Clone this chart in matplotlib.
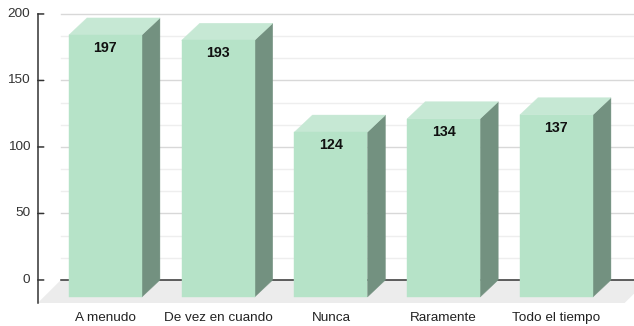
import matplotlib
matplotlib.use("Agg")
import matplotlib.pyplot as plt
from matplotlib.patches import Polygon
import numpy as np

categories = ['A menudo', 'De vez en cuando', 'Nunca', 'Raramente', 'Todo el tiempo']
values = [197, 193, 124, 134, 137]
y_major = [0, 50, 100, 150, 200]

plt.rcParams['font.family'] = ['Liberation Sans', 'DejaVu Sans']

# colours
front_c = '#b6e3c8'
top_c = '#c6e8d4'
side_c = '#739180'
floor_c = '#ececec'

# 3d look (data units: categories on x, values on y)
bar_w = 0.647
dx_bar, dy_bar = 0.16, 12.8      # front face is shifted left/down by this
dx_floor, dy_floor = 0.205, 17.3
x_left, x_right = -0.555, 4.65

fig = plt.figure(figsize=(6.34, 3.26), dpi=100)
ax = fig.add_axes([0, 0, 1, 1])
ax.set_xlim(-1.095, 4.528)
ax.set_ylim(-34.6, 210.5)
ax.axis('off')

# floor
ax.add_patch(Polygon([(x_left, 0), (x_right, 0),
                      (x_right - dx_floor, -dy_floor), (x_left - dx_floor, -dy_floor)],
                     closed=True, facecolor=floor_c, edgecolor='none', zorder=1))

# grid lines on back wall
minor = [v for v in np.arange(0, 201, 50 / 3) if round(v) % 50 != 0]
for v in minor:
    ax.plot([x_left, x_right], [v, v], color='#eeeeee', lw=1, zorder=2)
for v in y_major[1:]:
    ax.plot([x_left, x_right], [v, v], color='#d8d8d8', lw=1, zorder=2)
ax.plot([x_left, x_right], [0, 0], color='#333333', lw=1.1, zorder=2)

# bars
for i, v in enumerate(values):
    fx0 = i - dx_bar - bar_w / 2
    fx1 = i - dx_bar + bar_w / 2
    fy0 = -dy_bar
    fy1 = v - dy_bar
    side = [(fx1, fy0), (fx1 + dx_bar, 0), (fx1 + dx_bar, v), (fx1, fy1)]
    top = [(fx0, fy1), (fx0 + dx_bar, v), (fx1 + dx_bar, v), (fx1, fy1)]
    ax.add_patch(Polygon(side, closed=True, facecolor=side_c, edgecolor=side_c, lw=0.3, zorder=3))
    ax.add_patch(Polygon(top, closed=True, facecolor=top_c, edgecolor=top_c, lw=0.3, zorder=3))
    ax.add_patch(plt.Rectangle((fx0, fy0), bar_w, v, facecolor=front_c, edgecolor=front_c,
                               lw=0.3, zorder=4))
    ax.annotate(str(v), (i - dx_bar, fy1), xytext=(0, -9.4), textcoords='offset points',
                ha='center', va='center', fontsize=10.3, fontweight='bold', color='#111111', zorder=5)
    ax.annotate(categories[i], (i - dx_bar, -dy_floor), xytext=(0, -10.6), textcoords='offset points',
                ha='center', va='center', fontsize=9.7, color='#222222', zorder=5)

# y axis on the front
ax_x = x_left - dx_floor
ax.plot([ax_x, ax_x], [-dy_floor, 200], color='#333333', lw=1.1, zorder=5)
for v in y_major:
    ax.annotate('', (ax_x, v), xytext=(4.3, 0), textcoords='offset points',
                arrowprops=dict(arrowstyle='-', color='#333333', lw=1.1, shrinkA=0, shrinkB=0))
    ax.annotate(str(v), (ax_x, v), xytext=(-5.5, 0), textcoords='offset points',
                ha='right', va='center', fontsize=9.7, color='#333333')

fig.savefig('out.png', dpi=100)
